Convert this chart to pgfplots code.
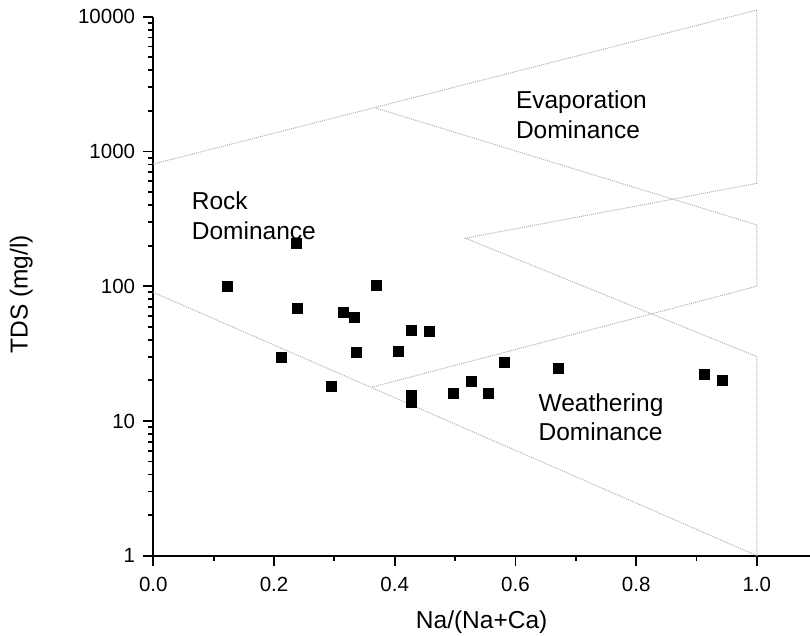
\documentclass[border=0pt]{standalone}
\usepackage{fontspec}
\setmainfont{Liberation Sans}
\usepackage{pgfplots}
\pgfplotsset{compat=1.18}
\begin{document}
\begin{tikzpicture}
\begin{axis}[
  scale only axis, width=656.7pt, height=539pt,
  xmin=0, xmax=1.088, ymin=1, ymax=10000, ymode=log,
  axis x line*=bottom, axis y line*=left,
  axis line style={line width=2pt},
  tick align=outside, major tick length=10pt, minor tick length=5pt,
  every tick/.style={black, line width=1.8pt},
  xtick={0,0.2,0.4,0.6,0.8,1.0}, xticklabels={0.0,0.2,0.4,0.6,0.8,1.0},
  minor xtick={0.1,0.3,0.5,0.7,0.9},
  ytick={1,10,100,1000,10000}, yticklabels={1,10,100,1000,10000},
  tick label style={font=\fontsize{20.5}{22}\selectfont, inner sep=0pt},
  xticklabel style={yshift=-11pt},
  yticklabel style={xshift=-8pt},
  xlabel={Na/(Na+Ca)}, ylabel={TDS (mg/l)},
  label style={font=\fontsize{24.5}{28}\selectfont, inner sep=0pt},
  x label style={at={(axis description cs:0.5,0)}, anchor=north, yshift=-55pt},
  y label style={at={(axis description cs:-0.1832,0.485)}, anchor=south},
  clip=false,
]
% Gibbs boundaries
\addplot[gray!60, densely dotted, line width=1pt] coordinates {(0,807) (1,11200) (1,580) (0.517,227) (1,30) (1,1) (0,90)};
\addplot[gray!60, densely dotted, line width=1pt] coordinates {(0.37,2090) (1,285) (1,100) (0.362,17.8)};
% samples
\addplot[only marks, mark=square*, mark size=5pt, black] coordinates {
(0.236,208) (0.123,100) (0.369,101) (0.239,68.6) (0.315,63.6) (0.333,58.4)
(0.427,47.3) (0.457,46) (0.336,32.5) (0.406,33.2) (0.212,29.7) (0.294,18.2)
(0.428,15.6) (0.428,13.7) (0.497,16.0) (0.527,19.8) (0.555,16.0) (0.582,27.1)
(0.670,24.8) (0.913,22.3) (0.943,19.9)};
\node[anchor=base west, inner sep=0pt, font=\fontsize{24.5}{28}\selectfont] at (axis cs:0.0636,374) {Rock};
\node[anchor=base west, inner sep=0pt, font=\fontsize{24.5}{28}\selectfont] at (axis cs:0.0636,224) {Dominance};
\node[anchor=base west, inner sep=0pt, font=\fontsize{24.5}{28}\selectfont] at (axis cs:0.6006,2090) {Evaporation};
\node[anchor=base west, inner sep=0pt, font=\fontsize{24.5}{28}\selectfont] at (axis cs:0.6006,1253) {Dominance};
\node[anchor=base west, inner sep=0pt, font=\fontsize{24.5}{28}\selectfont] at (axis cs:0.638,11.7) {Weathering};
\node[anchor=base west, inner sep=0pt, font=\fontsize{24.5}{28}\selectfont] at (axis cs:0.638,7.1) {Dominance};
\end{axis}
\pgfresetboundingbox
\path[use as bounding box] (-153.3pt,-80.3pt) rectangle (656.7pt,555.7pt);
\end{tikzpicture}
\end{document}
